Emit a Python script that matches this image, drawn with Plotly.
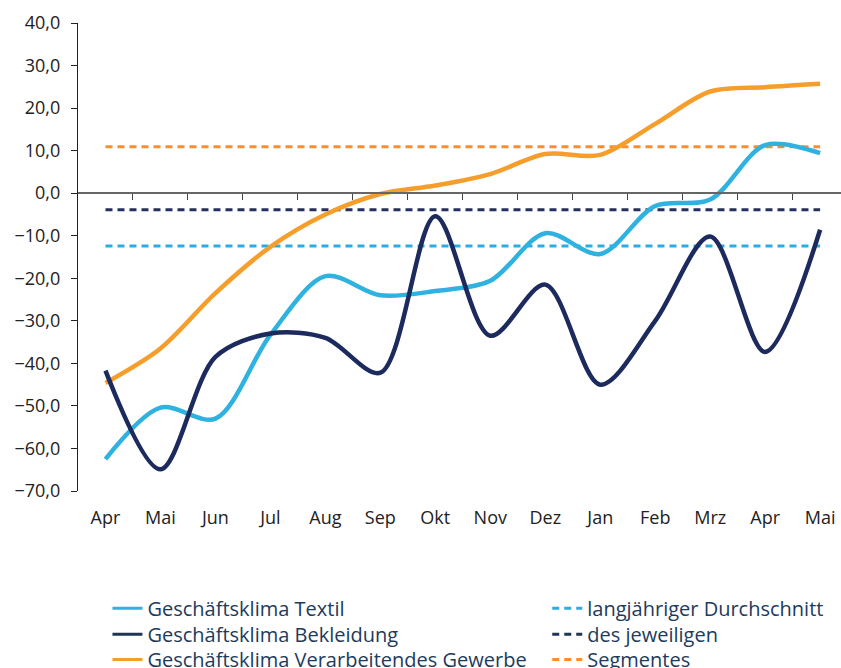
import plotly.graph_objects as go

months = ["Apr", "Mai", "Jun", "Jul", "Aug", "Sep", "Okt", "Nov", "Dez", "Jan", "Feb", "Mrz", "Apr", "Mai"]
textil = [-62.5, -50.4, -53.0, -33.3, -19.5, -24.0, -23.0, -20.6, -9.4, -14.3, -3.0, -1.5, 11.3, 9.4]
bekleidung = [-41.7, -64.9, -38.5, -33.0, -34.0, -42.2, -5.4, -33.5, -21.5, -45.0, -30.0, -10.2, -37.3, -8.6]
gewerbe = [-44.6, -36.5, -23.5, -12.6, -5.0, -0.2, 1.8, 4.5, 9.2, 9.0, 16.3, 23.9, 24.9, 25.7]
avg_textil = -12.4
avg_bekleidung = -3.9
avg_gewerbe = 10.9

legend_names_solid = ["Geschäftsklima Textil", "Geschäftsklima Bekleidung", "Geschäftsklima Verarbeitendes Gewerbe"]
legend_names_dash = ["langjähriger Durchschnitt", "des jeweiligen", "Segmentes"]

c_textil = "#2fb2df"
c_bekl = "#1c2a5e"
c_gew = "#f59e2c"
c_avg_gew = "#f78f32"
c_avg_bekl = "#27305c"
c_avg_textil = "#2cace0"
c_leg_bekl = "#1f3556"

x = list(range(len(months)))
dash = "7px,5px"

fig = go.Figure()

# dashed averages (drawn first, under curves)
for val, col in [(avg_gewerbe, c_avg_gew), (avg_bekleidung, c_avg_bekl), (avg_textil, c_avg_textil)]:
    fig.add_trace(go.Scatter(
        x=x, y=[val] * len(months), mode="lines",
        line=dict(color=col, width=3, dash=dash),
        showlegend=False, hoverinfo="skip",
    ))

for ys, col, name in [(gewerbe, c_gew, legend_names_solid[2]),
                      (textil, c_textil, legend_names_solid[0]),
                      (bekleidung, c_bekl, legend_names_solid[1])]:
    fig.add_trace(go.Scatter(
        x=x, y=ys, mode="lines", name=name,
        line=dict(color=col, width=4.5, shape="spline", smoothing=0.9),
        showlegend=False,
    ))

# legend entries (thin symbols as in the reference)
for name, col, d, leg in [
    (legend_names_solid[0], c_textil, "solid", "legend"),
    (legend_names_solid[1], c_leg_bekl, "solid", "legend2"),
    (legend_names_solid[2], c_gew, "solid", "legend3"),
    (legend_names_dash[0], c_avg_textil, dash, "legend4"),
    (legend_names_dash[1], c_leg_bekl, dash, "legend5"),
    (legend_names_dash[2], c_avg_gew, dash, "legend6"),
]:
    fig.add_trace(go.Scatter(
        x=[None], y=[None], mode="lines", name=name,
        line=dict(color=col, width=3, dash=d), legend=leg, hoverinfo="skip",
    ))

# invisible trace to carry the zero-line axis
fig.add_trace(go.Scatter(x=x, y=[0] * len(x), xaxis="x2", mode="lines",
                         line=dict(width=0), showlegend=False, hoverinfo="skip"))

xr = [-0.5, 13.38]
leg_font = dict(family="Open Sans", size=20, color="#1d3b5c")

def leg(xp, yp):
    return dict(x=xp, y=yp, xanchor="left", yanchor="middle", orientation="v",
                font=leg_font, bgcolor="rgba(0,0,0,0)", borderwidth=0)

col1, col2 = 0.0386, 0.615
rows = [-0.2507, -0.3063, -0.3598]

fig.update_layout(
    width=841, height=668,
    margin=dict(l=77.5, r=0, t=23.3, b=177.2, autoexpand=False),
    paper_bgcolor="white", plot_bgcolor="white",
    separators=",.",
    font=dict(family="Open Sans", size=18, color="#222222"),
    xaxis=dict(
        range=xr, tickvals=x, ticktext=months, showline=False, showgrid=False,
        zeroline=False, ticks="outside", ticklen=10, tickcolor="rgba(0,0,0,0)",
        tickfont=dict(size=18, color="#222222"),
    ),
    xaxis2=dict(
        range=xr, overlaying="x", anchor="free", position=70 / 110,
        tickvals=[i + 0.5 for i in x[:-1]], showticklabels=False,
        ticks="outside", ticklen=6, tickcolor="#444444", tickwidth=1.2,
        showline=True, linecolor="#666666", linewidth=1.5, showgrid=False, zeroline=False,
    ),
    yaxis=dict(
        range=[-70, 40], dtick=10, tickformat=".1f", showgrid=False, zeroline=False,
        showline=True, linecolor="#222222", linewidth=1.2,
        ticks="outside", ticklen=6, tickcolor="#222222", ticklabelstandoff=7,
        tickfont=dict(size=18, color="#222222"),
    ),
    legend=leg(col1, rows[0]),
    legend2=leg(col1, rows[1]),
    legend3=leg(col1, rows[2]),
    legend4=leg(col2, rows[0]),
    legend5=leg(col2, rows[1]),
    legend6=leg(col2, rows[2]),
    showlegend=True,
)

fig.write_html(
    "out.html",
    config={"displayModeBar": False},
    post_script="document.body.style.margin='0';document.body.style.overflow='hidden';",
)
